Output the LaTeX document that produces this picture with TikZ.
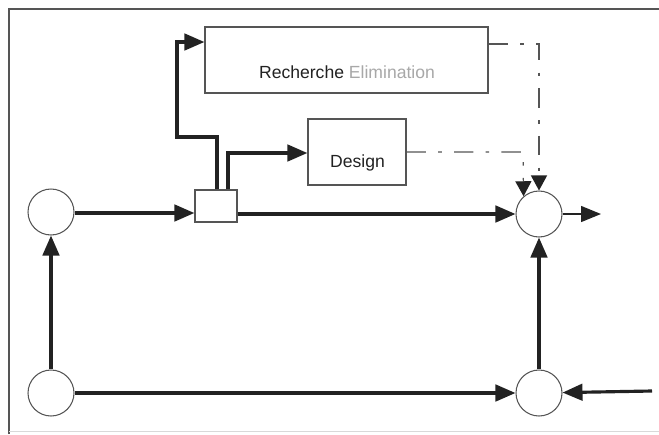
\documentclass[tikz,border=0pt]{standalone}
\usepackage{fontspec}
\setmainfont{Liberation Sans}
\usetikzlibrary{arrows.meta,positioning,calc}
\definecolor{lineink}{HTML}{222222}
\definecolor{edgeink}{HTML}{555555}
\definecolor{fadetext}{HTML}{A8A8A8}
\tikzset{
  sumnode/.style={circle, draw=edgeink, line width=0.6pt, fill=white,
    minimum size=0.92cm, inner sep=0pt},
  blockbox/.style={draw=edgeink, line width=0.7pt, fill=white, inner sep=0pt},
  mainarr/.style={-{Triangle[length=4mm, width=3.3mm]}, line width=1.8pt, draw=lineink},
  outarr/.style={-{Triangle[length=4mm, width=3.2mm]}, line width=0.8pt, draw=lineink},
  feedarr/.style={-{Triangle[length=3mm, width=3.2mm, color=lineink]}, line width=0.7pt,
    draw=edgeink, dash pattern=on 11pt off 7pt on 2pt off 7pt},
  boxtext/.style={font=\fontsize{10}{12}\selectfont, text=lineink}
}
\begin{document}
\begin{tikzpicture}[x=0.02cm,y=-0.02cm]
        \useasboundingbox (0,0) rectangle (659,434);
        % frame
        \draw[line width=1pt, edgeink] (9,434) -- (9,9) -- (659,9);
        \draw[line width=0.5pt, black!15] (9,431) -- (659,431);
        % blocks
        \node[sumnode] (A) at (51,212) {};
        \node[sumnode] (B) at (51,393) {};
        \node[sumnode] (C) at (539,214) {};
        \node[sumnode] (D) at (539,393) {};
        \node[blockbox, minimum width=0.84cm, minimum height=0.64cm] (blk) at (216,206) {};
        \node[blockbox, minimum width=5.66cm, minimum height=1.32cm] (rech) at (346.5,60) {};
        \node[boxtext] (rechtxt) at (347,72) {Recherche \textcolor{fadetext}{Elimination}};
        \node[blockbox, minimum width=1.96cm, minimum height=1.32cm] (des) at (357,152) {};
        \node[boxtext] (destxt) at (357.5,163) {Design};
        % main path
        \draw[mainarr] (B) -- (A);
        \draw[mainarr] (A.east |- 0,213) -- (blk.west |- 0,213);
        \draw[mainarr] (blk.east |- C) -- (C);
        \draw[mainarr] (B) -- (D);
        \draw[mainarr] (D) -- (C);
        \coordinate (inD) at (652,391);
        \draw[mainarr] (inD) -- (D);
        \coordinate (out) at (601,214);
        \draw[outarr] (C) -- (out);
        % branches
        \coordinate (tapA) at (217,137);
        \draw[mainarr] (blk.north -| tapA) -- (tapA) -| (177,42) -- (rech.west |- 177,42);
        \coordinate (tapB) at (228,153);
        \draw[mainarr] (blk.north -| tapB) -- (tapB) -- (des.west |- tapB);
        % feedback
        \coordinate (fbA) at (523,152);
        \draw[feedarr] (des.east) -- (fbA) -- (C.131);
        \coordinate (fbB) at (539,44);
        \draw[feedarr] (rech.east |- fbB) -- (fbB) -- (C.north);
      \end{tikzpicture}
\end{document}
